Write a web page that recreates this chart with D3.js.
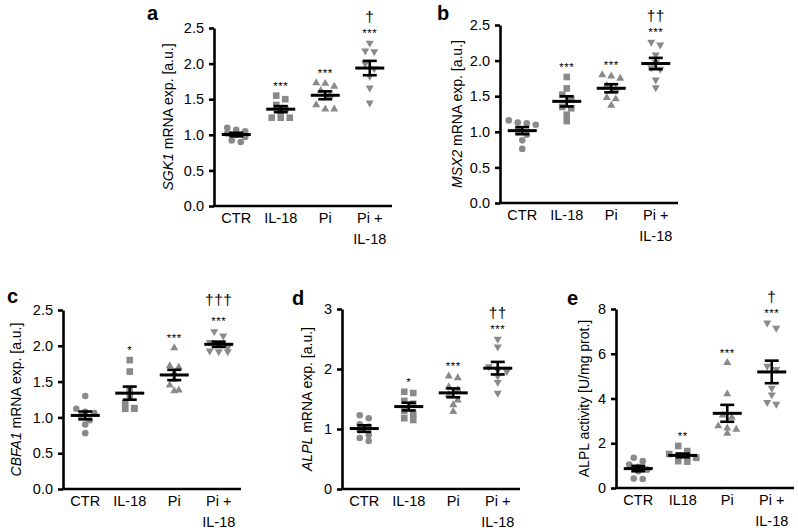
<!DOCTYPE html>
<html>
<head>
<meta charset="utf-8">
<script src="https://cdn.jsdelivr.net/npm/d3@7"></script>
<style>
body { margin: 0; background: #fff; }
text { font-family: "Liberation Sans", Arial, Helvetica, sans-serif; fill: #000; }
</style>
</head>
<body>
<div class="chart"></div>
<script>
// group names ("|" = line break)
const groups = ["CTR", "IL-18", "Pi", "Pi +|IL-18"];
const groupsE = ["CTR", "IL18", "Pi", "Pi +|IL-18"];

// tick values
const ticksHalf = [0, 0.5, 1.0, 1.5, 2.0, 2.5];
const ticksD = [0, 1, 2, 3];
const ticksE = [0, 2, 4, 6, 8];

// a: SGK1
const sgk1 = [
    [1.10, 1.07, 1.05, 1.02, 1.00, 0.97, 0.92, 0.90],
    [1.55, 1.50, 1.42, 1.36, 1.33, 1.24, 1.24, 1.24],
    [1.73, 1.72, 1.68, 1.62, 1.55, 1.42, 1.36, 1.36],
    [2.29, 2.18, 2.17, 2.00, 1.93, 1.82, 1.66, 1.45]
];
const sgk1Stars = ["", "***", "***", "***"];
const sgk1Daggers = ["", "", "", "\u2020"];

// b: MSX2
const msx2 = [
    [1.16, 1.13, 1.12, 1.10, 1.02, 0.96, 0.88, 0.76],
    [1.77, 1.61, 1.52, 1.45, 1.35, 1.33, 1.24, 1.15],
    [1.80, 1.78, 1.75, 1.65, 1.60, 1.48, 1.46, 1.37],
    [2.26, 2.22, 2.08, 1.98, 1.90, 1.88, 1.73, 1.62]
];
const msx2Stars = ["", "***", "***", "***"];
const msx2Daggers = ["", "", "", "\u2020\u2020"];

// c: CBFA1
const cbfa1 = [
    [1.30, 1.12, 1.08, 1.06, 1.02, 0.96, 0.90, 0.78],
    [1.80, 1.64, 1.40, 1.30, 1.20, 1.13, 1.12, 1.12],
    [1.97, 1.72, 1.70, 1.62, 1.53, 1.45, 1.38, 1.37],
    [2.20, 2.14, 2.05, 2.03, 1.98, 1.93, 1.92, 1.92]
];
const cbfa1Stars = ["", "*", "***", "***"];
const cbfa1Daggers = ["", "", "", "\u2020\u2020\u2020"];

// d: ALPL mRNA
const alpl = [
    [1.23, 1.18, 1.08, 1.04, 0.98, 0.90, 0.85, 0.80],
    [1.62, 1.60, 1.47, 1.42, 1.30, 1.25, 1.18, 1.15],
    [1.88, 1.85, 1.70, 1.65, 1.57, 1.48, 1.40, 1.29],
    [2.50, 2.37, 2.04, 1.98, 1.96, 1.88, 1.78, 1.60]
];
const alplStars = ["", "*", "***", "***"];
const alplDaggers = ["", "", "", "\u2020\u2020"];

// e: ALPL activity
const alplAct = [
    [1.35, 1.20, 1.05, 0.95, 0.82, 0.75, 0.42, 0.40],
    [1.88, 1.65, 1.52, 1.45, 1.42, 1.35, 1.20, 1.18],
    [5.60, 4.20, 3.25, 3.15, 2.77, 2.67, 2.62, 2.44],
    [7.38, 7.15, 5.45, 5.30, 4.47, 4.17, 3.83, 3.75]
];
const alplActStars = ["", "**", "***", "***"];
const alplActDaggers = ["", "", "", "\u2020"];

const panels = [
    {letter: "a", gene: "SGK1", rest: " mRNA exp. [a.u.]", cats: groups, values: sgk1,
     stars: sgk1Stars, daggers: sgk1Daggers, ticks: ticksHalf, fmt: ".1f", max: 2.5,
     x0: 214, y0: 206, top: 28, lx: 147, ly: 20, labelDx: -46, dagGap: 15},
    {letter: "b", gene: "MSX2", rest: " mRNA exp. [a.u.]", cats: groups, values: msx2,
     stars: msx2Stars, daggers: msx2Daggers, ticks: ticksHalf, fmt: ".1f", max: 2.5,
     x0: 500, y0: 203, top: 25, lx: 437, ly: 20, labelDx: -43, dagGap: 15},
    {letter: "c", gene: "CBFA1", rest: " mRNA exp. [a.u.]", cats: groups, values: cbfa1,
     stars: cbfa1Stars, daggers: cbfa1Daggers, ticks: ticksHalf, fmt: ".1f", max: 2.5,
     x0: 63, y0: 489, top: 310, lx: 7, ly: 303, labelDx: -47, dagGap: 20},
    {letter: "d", gene: "ALPL", rest: " mRNA exp. [a.u.]", cats: groups, values: alpl,
     stars: alplStars, daggers: alplDaggers, ticks: ticksD, fmt: "d", max: 3,
     x0: 342, y0: 489, top: 309, lx: 292, ly: 305, labelDx: -35, dagGap: 15},
    {letter: "e", gene: "", rest: "ALPL activity [U/mg prot.]", cats: groupsE, values: alplAct,
     stars: alplActStars, daggers: alplActDaggers, ticks: ticksE, fmt: "d", max: 8,
     x0: 616, y0: 488, top: 309, lx: 567, ly: 305, labelDx: -32, dagGap: 15}
];

const shapes = [d3.symbolCircle, d3.symbolSquare, d3.symbolTriangle, d3.symbolTriangle];
const shapeSize = [34, 44, 28, 28];
const markColor = "#8a8a8a";

// spread points of one group sideways, row by row
function swarm(vals, y, step) {
    const idx = d3.range(vals.length).sort((i, j) => vals[j] - vals[i]);
    const off = new Array(vals.length);
    const rows = [];
    idx.forEach(i => {
        const py = y(vals[i]);
        const last = rows[rows.length - 1];
        if (last && py - last.y0 < 5.5) last.items.push(i);
        else rows.push({y0: py, items: [i]});
    });
    rows.forEach(r => r.items.forEach((i, k) => {
        off[i] = (k - (r.items.length - 1) / 2) * step;
    }));
    return off;
}

const svg = d3.select(".chart").append("svg")
    .attr("width", 798)
    .attr("height", 530)
    .attr("viewBox", [0, 0, 798, 530]);

panels.forEach(p => {
    const g = svg.append("g");

    const x = d3.scaleBand()
        .domain(p.cats)
        .range([p.x0, p.x0 + 178]);

    const y = d3.scaleLinear()
        .domain([0, p.max])
        .range([p.y0, p.top]);

    // points
    p.values.forEach((vals, gi) => {
        const cx = x(p.cats[gi]) + x.bandwidth() / 2;
        const off = swarm(vals, y, 9);
        g.append("g").selectAll("path")
            .data(vals)
            .enter()
            .append("path")
            .attr("d", d3.symbol().type(shapes[gi]).size(shapeSize[gi]))
            .attr("fill", markColor)
            .attr("transform", (d, i) => `translate(${cx + off[i]},${y(d)})` + (gi === 3 ? " rotate(180)" : ""));

        // mean and SEM
        const m = d3.mean(vals);
        const sem = d3.deviation(vals) / Math.sqrt(vals.length);
        const eb = g.append("g")
            .attr("stroke", "#000")
            .attr("stroke-width", 2.6);
        eb.append("line")
            .attr("x1", cx - 14.5).attr("x2", cx + 14.5)
            .attr("y1", y(m)).attr("y2", y(m))
            .attr("stroke-width", 3);
        eb.append("line")
            .attr("x1", cx).attr("x2", cx)
            .attr("y1", y(m - sem)).attr("y2", y(m + sem));
        [m - sem, m + sem].forEach(v => {
            eb.append("line")
                .attr("x1", cx - 7).attr("x2", cx + 7)
                .attr("y1", y(v)).attr("y2", y(v));
        });

        // significance marks
        const top = y(d3.max(vals));
        if (p.stars[gi]) {
            g.append("text")
                .attr("x", cx)
                .attr("y", top - 6)
                .attr("text-anchor", "middle")
                .attr("font-size", 11.5)
                .attr("letter-spacing", 0.5)
                .text(p.stars[gi]);
        }
        if (p.daggers[gi]) {
            g.append("text")
                .attr("x", cx)
                .attr("y", top - 6 - p.dagGap)
                .attr("text-anchor", "middle")
                .attr("font-size", 15.5)
                .attr("letter-spacing", 0.5)
                .text(p.daggers[gi]);
        }
    });

    // y axis
    const yAxis = d3.axisLeft(y)
        .tickValues(p.ticks)
        .tickFormat(d3.format(p.fmt))
        .tickSize(5)
        .tickSizeOuter(0)
        .tickPadding(5);

    const ya = g.append("g")
        .attr("class", "axis y-axis")
        .attr("transform", `translate(${p.x0},0)`)
        .call(yAxis);
    ya.select(".domain").attr("stroke-width", 2.6);
    ya.selectAll(".tick line").attr("stroke-width", 2.6);
    ya.selectAll(".tick text").attr("font-size", 14.5).attr("font-family", null);

    // x axis
    const xAxis = d3.axisBottom(x)
        .tickSize(0)
        .tickSizeOuter(0);

    const xa = g.append("g")
        .attr("class", "axis x-axis")
        .attr("transform", `translate(0,${p.y0})`)
        .call(xAxis);
    xa.select(".domain").attr("stroke-width", 2.6).attr("d", `M${p.x0 - 1},0H${p.x0 + 178}`);
    xa.selectAll(".tick text")
        .attr("font-size", 14.5)
        .attr("font-family", null)
        .attr("y", 17)
        .attr("dy", 0)
        .text(null)
        .each(function(d) {
            const parts = d.split("|");
            const t = d3.select(this);
            parts.forEach((s, i) => {
                t.append("tspan")
                    .attr("x", 0)
                    .attr("dy", i === 0 ? 0 : 21)
                    .text(s);
            });
        });

    // y label
    const lab = g.append("text")
        .attr("transform", `translate(${p.x0 + p.labelDx},${(p.y0 + p.top) / 2}) rotate(-90)`)
        .attr("text-anchor", "middle")
        .attr("dy", "0.35em")
        .attr("font-size", 14);
    if (p.gene) lab.append("tspan").attr("font-style", "italic").text(p.gene);
    lab.append("tspan").text(p.rest);

    // panel letter
    g.append("text")
        .attr("x", p.lx)
        .attr("y", p.ly)
        .attr("font-size", 20)
        .attr("font-weight", "bold")
        .text(p.letter);
});
</script>
</body>
</html>
